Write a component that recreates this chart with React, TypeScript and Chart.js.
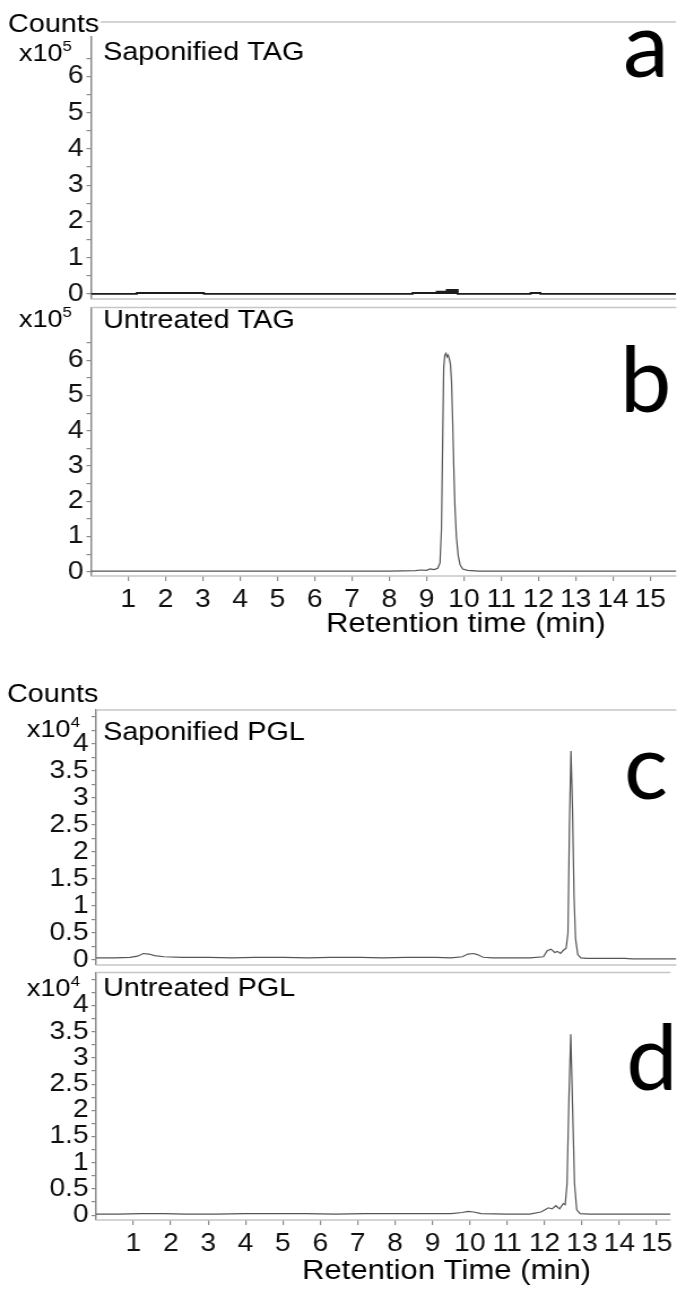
import { useEffect, useRef } from "react";
import { Chart, registerables } from "chart.js";

Chart.register(...registerables);

// Horizontal stretch applied to each panel canvas
const PAGE_W = 677;
const PAGE_H = 1289;
const W = 599;
const S = PAGE_W / W;

const TEXT_FONT = "'Liberation Sans', Arial, sans-serif";
const LETTER_FONT = "Lato, 'Open Sans', sans-serif";
const FRAME_COLOR = "#c6c6c6";
const AXIS_COLOR = "#8a8a8a";
const TICK_COLOR = "#8a8a8a";

// Retention time ticks (min)
const TIME_TICKS = [1, 2, 3, 4, 5, 6, 7, 8, 9, 10, 11, 12, 13, 14, 15];

// TAG panels: counts x10^5
const TAG_Y_LABELS = [0, 1, 2, 3, 4, 5, 6];
const TAG_Y_STEP = 0.5;
const TAG_Y_TOP = 6.5;

// PGL panels: counts x10^4
const PGL_Y_LABELS = [0, 0.5, 1, 1.5, 2, 2.5, 3, 3.5, 4];
const PGL_Y_STEP = 0.25;
const PGL_Y_TOP = 4.5;

// (a) Saponified TAG
const SAP_TAG_TIME = [0, 1.23, 1.23, 3.03, 3.03, 8.63, 8.63, 9.28, 9.28, 9.55, 9.55, 9.84, 9.84, 11.8, 11.8, 12.06, 12.06, 15.7];
const SAP_TAG_COUNTS = [0, 0, 0.025, 0.025, 0, 0, 0.025, 0.025, 0.06, 0.06, 0.11, 0.11, 0, 0, 0.025, 0.025, 0, 0];

// (b) Untreated TAG
const UNT_TAG_TIME = [0, 2, 4, 6, 8, 8.7, 8.85, 9.0, 9.1, 9.2, 9.3, 9.36, 9.4, 9.43, 9.46, 9.49, 9.52, 9.55, 9.58, 9.61, 9.64, 9.67, 9.7, 9.73, 9.76, 9.8, 9.85, 9.9, 9.97, 10.1, 10.4, 12, 14, 15.7];
const UNT_TAG_COUNTS = [0.02, 0.02, 0.02, 0.02, 0.02, 0.03, 0.05, 0.04, 0.08, 0.06, 0.1, 0.25, 1.2, 3.5, 5.8, 6.15, 6.2, 6.1, 6.15, 6.05, 5.9, 5.4, 4.3, 3.0, 1.9, 1.0, 0.45, 0.2, 0.08, 0.04, 0.02, 0.02, 0.02, 0.02];

// (c) Saponified PGL
const SAP_PGL_TIME = [0, 0.5, 0.9, 1.1, 1.25, 1.4, 1.55, 1.8, 2.3, 3.0, 3.6, 4.2, 5.0, 5.6, 6.2, 7.0, 7.6, 8.2, 8.6, 9.0, 9.4, 9.7, 9.85, 10.0, 10.1, 10.25, 10.5, 11.0, 11.5, 11.85, 11.95, 12.05, 12.15, 12.22, 12.3, 12.38, 12.45, 12.5, 12.54, 12.58, 12.62, 12.66, 12.7, 12.76, 12.84, 13.0, 14.0, 14.2, 15.37];
const SAP_PGL_COUNTS = [0.04, 0.04, 0.05, 0.07, 0.12, 0.11, 0.08, 0.06, 0.05, 0.05, 0.04, 0.05, 0.05, 0.04, 0.05, 0.05, 0.04, 0.05, 0.05, 0.05, 0.04, 0.06, 0.11, 0.12, 0.1, 0.05, 0.04, 0.04, 0.04, 0.06, 0.17, 0.2, 0.14, 0.16, 0.12, 0.18, 0.22, 0.5, 2.5, 3.87, 2.8, 1.2, 0.4, 0.1, 0.04, 0.03, 0.03, 0.02, 0.02];

// (d) Untreated PGL
const UNT_PGL_TIME = [0, 0.6, 1.2, 1.8, 2.4, 3.2, 4.0, 4.8, 5.6, 6.4, 7.2, 8.0, 8.8, 9.5, 9.8, 9.95, 10.1, 10.3, 11.0, 11.6, 11.9, 12.0, 12.1, 12.2, 12.3, 12.4, 12.5, 12.55, 12.6, 12.65, 12.7, 12.75, 12.8, 12.86, 12.95, 13.2, 14.0, 15.37];
const UNT_PGL_COUNTS = [0.02, 0.02, 0.03, 0.03, 0.02, 0.02, 0.03, 0.03, 0.03, 0.02, 0.03, 0.03, 0.03, 0.03, 0.05, 0.07, 0.06, 0.03, 0.02, 0.02, 0.06, 0.1, 0.14, 0.12, 0.18, 0.12, 0.22, 0.2, 0.6, 2.2, 3.45, 2.0, 0.6, 0.1, 0.03, 0.02, 0.02, 0.02];

type TextPos = { x: number; baseline: number };

interface PanelSpec {
  id: string;
  top: number;
  height: number;
  plotLeft: number;
  plotTop: number;
  plotBottom: number;
  yMin: number;
  yMax: number;
  xMax: number;
  yLabels: number[];
  yStep: number;
  yTop: number;
  time: number[];
  counts: number[];
  lineColor: string;
  lineWidth: number;
  fill: boolean;
  showTime: boolean;
  timeTitle?: string;
  timeTitlePos?: TextPos;
  countsPos?: TextPos;
  exponent: string;
  exponentPos: { right: number; baseline: number };
  name: string;
  namePos: TextPos;
  letter: string;
  letterPos: TextPos;
}

const PANELS: PanelSpec[] = [
  {
    id: "a", top: 0, height: 330, plotLeft: 91, plotTop: 22, plotBottom: 299,
    yMin: -0.14, yMax: 7.5, xMax: 15.7,
    yLabels: TAG_Y_LABELS, yStep: TAG_Y_STEP, yTop: TAG_Y_TOP,
    time: SAP_TAG_TIME, counts: SAP_TAG_COUNTS,
    lineColor: "#1c1c1c", lineWidth: 1.8, fill: true, showTime: false,
    countsPos: { x: 8, baseline: 32 },
    exponent: "5", exponentPos: { right: 72, baseline: 61 },
    name: "Saponified TAG", namePos: { x: 103, baseline: 60 },
    letter: "a", letterPos: { x: 623, baseline: 77 },
  },
  {
    id: "b", top: 290, height: 360, plotLeft: 91, plotTop: 299, plotBottom: 576,
    yMin: -0.12, yMax: 7.5, xMax: 15.7,
    yLabels: TAG_Y_LABELS, yStep: TAG_Y_STEP, yTop: TAG_Y_TOP,
    time: UNT_TAG_TIME, counts: UNT_TAG_COUNTS,
    lineColor: "#555555", lineWidth: 1.2, fill: false, showTime: true,
    timeTitle: "Retention time (min)", timeTitlePos: { x: 326, baseline: 632 },
    exponent: "5", exponentPos: { right: 72, baseline: 327 },
    name: "Untreated TAG", namePos: { x: 103, baseline: 328 },
    letter: "b", letterPos: { x: 620, baseline: 412 },
  },
  {
    id: "c", top: 670, height: 330, plotLeft: 96, plotTop: 710, plotBottom: 965,
    yMin: -0.093, yMax: 4.63, xMax: 15.37,
    yLabels: PGL_Y_LABELS, yStep: PGL_Y_STEP, yTop: PGL_Y_TOP,
    time: SAP_PGL_TIME, counts: SAP_PGL_COUNTS,
    lineColor: "#555555", lineWidth: 1.2, fill: false, showTime: false,
    countsPos: { x: 7, baseline: 702 },
    exponent: "4", exponentPos: { right: 80, baseline: 737 },
    name: "Saponified PGL", namePos: { x: 103, baseline: 740 },
    letter: "c", letterPos: { x: 624, baseline: 799 },
  },
  {
    id: "d", top: 955, height: 334, plotLeft: 96, plotTop: 965, plotBottom: 1220,
    yMin: -0.093, yMax: 4.63, xMax: 15.37,
    yLabels: PGL_Y_LABELS, yStep: PGL_Y_STEP, yTop: PGL_Y_TOP,
    time: UNT_PGL_TIME, counts: UNT_PGL_COUNTS,
    lineColor: "#555555", lineWidth: 1.2, fill: false, showTime: true,
    timeTitle: "Retention Time (min)", timeTitlePos: { x: 302, baseline: 1279 },
    exponent: "4", exponentPos: { right: 80, baseline: 996 },
    name: "Untreated PGL", namePos: { x: 103, baseline: 996 },
    letter: "d", letterPos: { x: 626, baseline: 1090 },
  },
];

function minorTicks(step: number, top: number): number[] {
  const out: number[] = [];
  for (let i = 0; i * step <= top + 1e-9; i++) out.push(+(i * step).toFixed(4));
  return out;
}

function makeDecor(p: PanelSpec) {
  const text = (
    ctx: CanvasRenderingContext2D,
    s: string,
    pageX: number,
    pageY: number,
    font: string,
    align: CanvasTextAlign = "left",
    stretched = true
  ) => {
    ctx.save();
    ctx.font = font;
    ctx.fillStyle = "#000";
    ctx.textAlign = align;
    ctx.textBaseline = "alphabetic";
    ctx.translate(pageX / S, pageY - p.top);
    if (!stretched) ctx.scale(1 / S, 1);
    ctx.fillText(s, 0, 0);
    ctx.restore();
  };
  return {
    id: "decor-" + p.id,
    beforeDatasetsDraw(chart: Chart) {
      const { ctx, chartArea: a } = chart;
      ctx.save();
      ctx.strokeStyle = FRAME_COLOR;
      ctx.lineWidth = 1.6;
      ctx.beginPath();
      ctx.moveTo(a.left, a.top);
      ctx.lineTo(a.right, a.top);
      ctx.moveTo(a.left, a.bottom);
      ctx.lineTo(a.right, a.bottom);
      ctx.stroke();
      ctx.restore();
    },
    afterDraw(chart: Chart) {
      const ctx = chart.ctx;
      const f = `25.5px ${TEXT_FONT}`;
      if (p.countsPos) {
        ctx.save();
        ctx.font = f;
        const w = ctx.measureText("Counts").width;
        ctx.fillStyle = "#fff";
        ctx.fillRect(p.countsPos.x / S - 1, p.countsPos.baseline - p.top - 20, w + 2, 24);
        ctx.restore();
        text(ctx, "Counts", p.countsPos.x, p.countsPos.baseline, f);
      }
      // multiplier x10^n
      ctx.save();
      ctx.font = `15px ${TEXT_FONT}`;
      const supW = ctx.measureText(p.exponent).width * S;
      ctx.restore();
      text(ctx, p.exponent, p.exponentPos.right, p.exponentPos.baseline - 10, `15px ${TEXT_FONT}`, "right");
      text(ctx, "x10", p.exponentPos.right - supW, p.exponentPos.baseline, `24px ${TEXT_FONT}`, "right");
      text(ctx, p.name, p.namePos.x, p.namePos.baseline, f);
      text(ctx, p.letter, p.letterPos.x, p.letterPos.baseline, `92px ${LETTER_FONT}`, "left", false);
      if (p.timeTitle && p.timeTitlePos) {
        text(ctx, p.timeTitle, p.timeTitlePos.x, p.timeTitlePos.baseline, `27.5px ${TEXT_FONT}`);
      }
    },
  };
}

function buildConfig(p: PanelSpec): any {
  const below = p.top + p.height - p.plotBottom;
  const yTickValues = minorTicks(p.yStep, p.yTop);
  return {
    type: "line",
    data: {
      datasets: [
        {
          data: p.time.map((t, i) => ({ x: t, y: p.counts[i] })),
          borderColor: p.lineColor,
          borderWidth: p.lineWidth,
          backgroundColor: p.lineColor,
          fill: p.fill ? { value: 0 } : false,
          pointRadius: 0,
          tension: 0,
        },
      ],
    },
    options: {
      animation: false,
      responsive: true,
      maintainAspectRatio: false,
      events: [],
      layout: {
        padding: { left: 0, right: 0, top: p.plotTop - p.top, bottom: p.showTime ? 0 : below },
      },
      plugins: { legend: { display: false }, tooltip: { enabled: false } },
      scales: {
        x: {
          type: "linear",
          min: 0,
          max: p.xMax,
          display: p.showTime,
          afterFit: (s: any) => {
            s.height = p.showTime ? below : 0;
          },
          afterBuildTicks: (s: any) => {
            s.ticks = TIME_TICKS.map((v) => ({ value: v }));
          },
          grid: { drawOnChartArea: false, drawTicks: true, tickLength: 5, color: TICK_COLOR, lineWidth: 1.2 },
          border: { display: false },
          ticks: {
            font: { family: TEXT_FONT, size: 25 },
            color: "#111",
            padding: 4,
            maxRotation: 0,
            autoSkip: false,
            callback: (v: number) => String(v),
          },
        },
        y: {
          type: "linear",
          min: p.yMin,
          max: p.yMax,
          afterFit: (s: any) => {
            s.width = p.plotLeft / S;
          },
          afterBuildTicks: (s: any) => {
            s.ticks = yTickValues.map((v) => ({ value: v }));
          },
          grid: { drawOnChartArea: false, drawTicks: true, tickLength: 4, color: TICK_COLOR, lineWidth: 1.2 },
          border: { display: true, color: AXIS_COLOR, width: 1.5 },
          ticks: {
            font: { family: TEXT_FONT, size: 25 },
            color: "#111",
            padding: 2.5,
            autoSkip: false,
            callback: (v: number) => (p.yLabels.includes(v) ? String(v) : ""),
          },
        },
      },
    },
    plugins: [makeDecor(p)],
  };
}

function Panel({ p }: { p: PanelSpec }) {
  const ref = useRef<HTMLCanvasElement>(null);
  useEffect(() => {
    if (!ref.current) return;
    const chart = new Chart(ref.current, buildConfig(p));
    return () => chart.destroy();
  }, [p]);
  return (
    <div
      style={{
        position: "absolute",
        left: 0,
        top: p.top,
        width: W,
        height: p.height,
        transform: `scaleX(${S})`,
        transformOrigin: "0 0",
      }}
    >
      <canvas ref={ref} />
    </div>
  );
}

export default function App() {
  return (
    <div
      style={{
        position: "absolute",
        left: 0,
        top: 0,
        width: PAGE_W,
        height: PAGE_H,
        overflow: "hidden",
        background: "#fff",
      }}
    >
      {PANELS.map((p) => (
        <Panel key={p.id} p={p} />
      ))}
    </div>
  );
}
